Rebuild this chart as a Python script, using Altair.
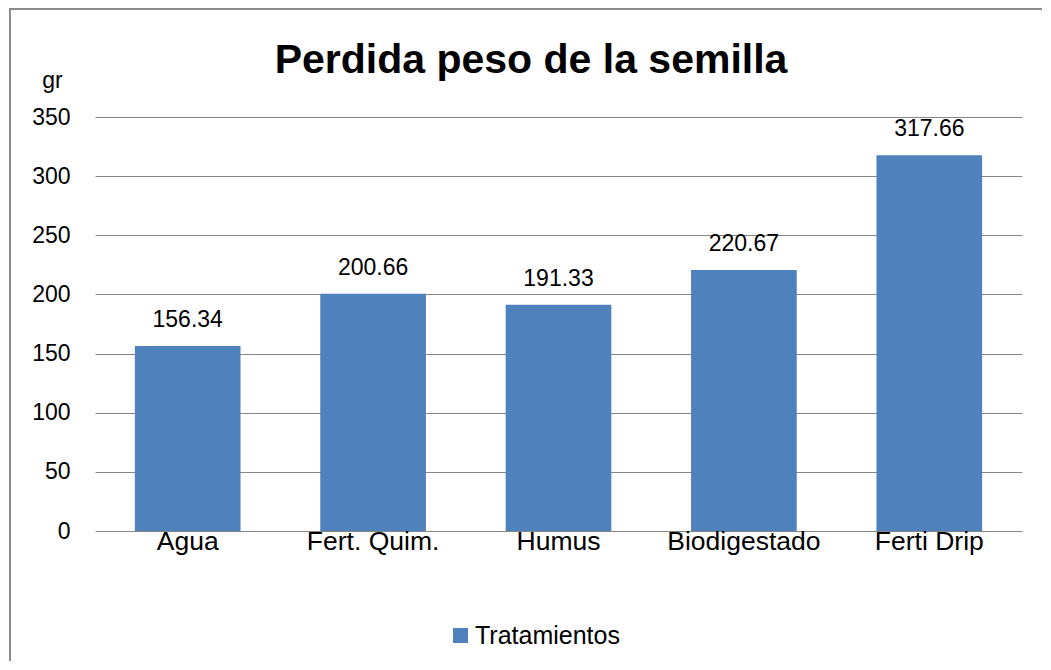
import altair as alt
import pandas as pd

TITLE = "Perdida peso de la semilla"
categories = ["Agua", "Fert. Quim.", "Humus", "Biodigestado", "Ferti Drip"]
values = [156.34, 200.66, 191.33, 220.67, 317.66]
labels = ["156.34", "200.66", "191.33", "220.67", "317.66"]
series = ["Tratamientos"] * 5
y_ticks = [0, 50, 100, 150, 200, 250, 300, 350]

df = pd.DataFrame({"cat": categories, "val": values, "lab": labels, "serie": series})
df_title = pd.DataFrame({"t": [TITLE]})

FONT = "Liberation Sans"
W, H = 927, 414

base = alt.Chart(df)

frame_left = alt.Chart(df_title).mark_rule(stroke="#8c8c8c", strokeWidth=2).encode(
    x=alt.value(-85), y=alt.value(-108), y2=alt.value(H + 300)
)
frame_top = alt.Chart(df_title).mark_rule(stroke="#8c8c8c", strokeWidth=2).encode(
    x=alt.value(-86), x2=alt.value(W + 300), y=alt.value(-108)
)

title = alt.Chart(df_title).mark_text(
    fontSize=41, fontWeight="bold", font=FONT, color="black",
    align="center", baseline="alphabetic"
).encode(x=alt.value(436), y=alt.value(-44), text="t:N")

bars = base.mark_bar(color="#4F81BD").encode(
    x=alt.X("cat:N", sort=categories,
            scale=alt.Scale(paddingInner=0.43, paddingOuter=0.215),
            axis=alt.Axis(title=None, labelAngle=0, labelFontSize=26.5, labelFont=FONT,
                          labelColor="black", domain=False, ticks=False, labelPadding=-3)),
    y=alt.Y("val:Q", scale=alt.Scale(domain=[0, 350], nice=False),
            axis=alt.Axis(values=y_ticks, title="gr", titleAngle=0, titleFont=FONT,
                          titleFontSize=23, titleFontWeight="normal", titleColor="black",
                          titleX=-43, titleY=-37, titleAlign="center", titleBaseline="middle",
                          labelFontSize=23, labelFont=FONT, labelColor="black",
                          domain=False, ticks=False, labelPadding=25,
                          grid=True, gridColor="#868686", gridWidth=1.2)),
    color=alt.Color("serie:N", scale=alt.Scale(range=["#4F81BD"]),
                    legend=alt.Legend(title=None, orient="none", legendX=353, legendY=506,
                                      symbolType="square", symbolSize=225,
                                      symbolStrokeWidth=0, labelOffset=2,
                                      labelFontSize=25, labelFont=FONT, labelColor="black"))
)

text = base.mark_text(baseline="alphabetic", dy=-19, fontSize=23, font=FONT, color="black").encode(
    x=alt.X("cat:N", sort=categories),
    y="val:Q",
    text="lab:N"
)

chart = alt.layer(frame_left, frame_top, title, bars, text).properties(
    width=W, height=H,
    autosize=alt.AutoSizeParams(type="none"),
    padding={"left": 87, "top": 109, "right": 20, "bottom": 130}
).configure_view(stroke=None)

chart.save("out.html", embed_options={"renderer": "svg", "actions": False})
